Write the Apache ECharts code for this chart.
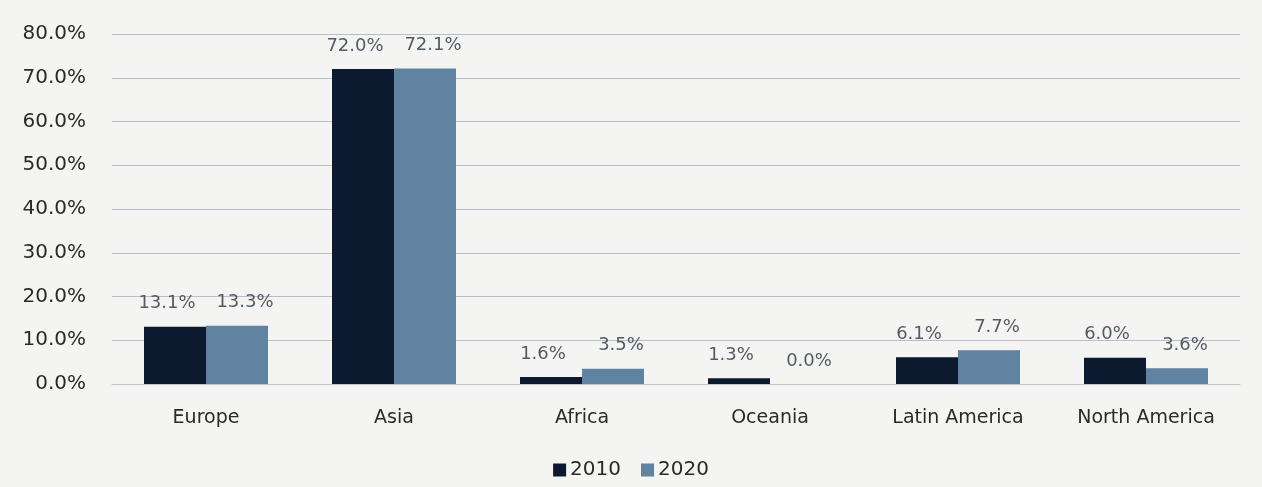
<!DOCTYPE html>
<html>
<head>
<meta charset="utf-8">
<style>
  html, body { margin: 0; padding: 0; background: #f4f4f3; }
  #chart { width: 1262px; height: 487px; }
</style>
<script src="https://cdn.jsdelivr.net/npm/echarts@6/dist/echarts.min.js"></script>
</head>
<body>
<div id="chart"></div>
<script>
// Regional shares, 2010 vs 2020 (percent)
const regions = ['Europe', 'Asia', 'Africa', 'Oceania', 'Latin America', 'North America'];
const share2010 = [13.1, 72.0, 1.6, 1.3, 6.1, 6.0];
const share2020 = [13.3, 72.1, 3.5, 0.0, 7.7, 3.6];
const seriesNames = ['2010', '2020'];

const FONT = '"DejaVu Sans", "Noto Sans", sans-serif';
const pct = v => v.toFixed(1) + '%';

const chart = echarts.init(document.getElementById('chart'));

function barSeries(name, data, color, dx) {
  return {
    name: name,
    type: 'bar',
    data: data,
    barWidth: 62,
    barGap: '0%',
    itemStyle: { color: color },
    label: {
      show: true,
      position: 'top',
      distance: 14,
      offset: [dx, 0],
      color: '#555b63',
      fontFamily: FONT,
      fontSize: 18,
      formatter: p => pct(p.value)
    }
  };
}

chart.setOption({
  backgroundColor: '#f4f4f3',
  animation: false,
  grid: { left: 112, right: 22, top: 34, bottom: 103 },
  legend: {
    bottom: 2,
    left: 'center',
    icon: 'rect',
    itemWidth: 13,
    itemHeight: 13,
    itemGap: 20,
    textStyle: { fontFamily: FONT, fontSize: 20, color: '#2a2a2a', padding: [0, 0, 0, -1] },
    data: seriesNames
  },
  xAxis: {
    type: 'category',
    data: regions,
    axisTick: { show: false },
    axisLine: { lineStyle: { color: '#c4c6cc', width: 1 } },
    axisLabel: { fontFamily: FONT, fontSize: 19, color: '#2a2a2a', margin: 25 }
  },
  yAxis: {
    type: 'value',
    min: 0,
    max: 80,
    interval: 10,
    axisLine: { show: false },
    axisTick: { show: false },
    splitLine: { lineStyle: { color: '#b9bccb', width: 1 } },
    axisLabel: {
      fontFamily: FONT, fontSize: 20, color: '#2a2a2a', margin: 26,
      formatter: v => pct(v)
    }
  },
  series: [
    barSeries(seriesNames[0], share2010, '#0c1a30', -8),
    barSeries(seriesNames[1], share2020, '#5f83a1', 8)
  ]
});
</script>
</body>
</html>
